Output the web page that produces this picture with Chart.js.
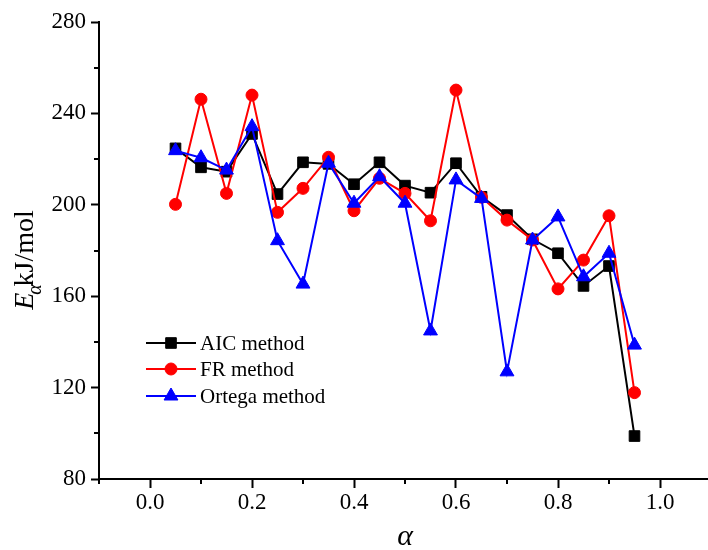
<!DOCTYPE html>
<html>
<head>
<meta charset="utf-8">
<script src="https://cdn.jsdelivr.net/npm/chart.js@4.4.1/dist/chart.umd.min.js"></script>
<style>
  html, body { margin: 0; padding: 0; background: #fff; overflow: hidden; }
  #wrap { position: absolute; left: 0; top: 0; width: 720px; height: 550px; }
</style>
</head>
<body>
<div id="wrap"><canvas id="grafico" width="720" height="550"></canvas></div>
<script>
// conversion degree values
const alfa = [0.05, 0.10, 0.15, 0.20, 0.25, 0.30, 0.35, 0.40, 0.45, 0.50,
              0.55, 0.60, 0.65, 0.70, 0.75, 0.80, 0.85, 0.90, 0.95];

// activation energy, kJ/mol
const aic    = [224.7, 216.4, 214.5, 231.0, 204.7, 218.6, 217.9, 209.0, 218.6, 208.4,
                205.3, 218.2, 203.5, 195.5, 184.9, 178.8, 164.5, 173.2, 98.8];
const fr     = [200.2, 246.2, 205.0, 248.0, 196.7, 207.2, 220.8, 197.4, 211.6, 205.0,
                193.0, 250.2, 203.3, 193.3, 184.6, 163.2, 175.8, 195.2, 117.8];
const ortega = [223.7, 220.6, 215.2, 234.2, 184.3, 165.3, 218.2, 200.7, 212.3, 200.7,
                144.8, 210.9, 202.8, 126.9, 184.6, 194.7, 168.5, 178.8, 138.6];

const seriesNames = ['AIC method', 'FR method', 'Ortega method'];

const yTicksMajor = [80, 120, 160, 200, 240, 280];
const xTicksMajor = ['0.0', '0.2', '0.4', '0.6', '0.8', '1.0'];

const FONT = '"Liberation Serif", "Times New Roman", serif';

function puntos(valores) {
  return alfa.map((a, i) => ({ x: a, y: valores[i] }));
}

// minor ticks, legend and axis titles
const extras = {
  id: 'extras',
  afterDraw(chart) {
    const ctx = chart.ctx;
    const xs = chart.scales.x, ys = chart.scales.y;
    const area = chart.chartArea;
    ctx.save();
    ctx.strokeStyle = '#000';
    ctx.lineWidth = 2;
    // minor ticks x
    for (let k = -1; k <= 11; k += 2) {
      const px = Math.round(xs.getPixelForValue(k / 10));
      ctx.beginPath();
      ctx.moveTo(px, area.bottom);
      ctx.lineTo(px, area.bottom + 5);
      ctx.stroke();
    }
    // minor ticks y
    for (let v = 100; v <= 260; v += 40) {
      const py = Math.round(ys.getPixelForValue(v));
      ctx.beginPath();
      ctx.moveTo(area.left, py);
      ctx.lineTo(area.left - 5, py);
      ctx.stroke();
    }

    // leyenda
    const filas = [343, 369, 396];
    chart.data.datasets.forEach((ds, i) => {
      const y = filas[i];
      ctx.strokeStyle = ds.borderColor;
      ctx.fillStyle = ds.pointBackgroundColor;
      ctx.lineWidth = 2;
      ctx.beginPath();
      ctx.moveTo(146, y);
      ctx.lineTo(196, y);
      ctx.stroke();
      ctx.lineWidth = 1;
      Chart.helpers.drawPoint(ctx, {
        pointStyle: ds.pointStyle, radius: ds.pointRadius, borderWidth: 1, rotation: 0
      }, 171, y);
      ctx.fillStyle = '#000';
      ctx.font = '21px ' + FONT;
      ctx.textBaseline = 'middle';
      ctx.textAlign = 'left';
      ctx.fillText(ds.label, 200, y + 1);
    });

    // titulo eje x
    ctx.fillStyle = '#000';
    ctx.textAlign = 'center';
    ctx.textBaseline = 'alphabetic';
    ctx.font = 'italic 30px ' + FONT;
    ctx.fillText('α', (area.left + area.right) / 2, 545);

    // titulo eje y con subindice
    ctx.translate(33, 260);
    ctx.rotate(-Math.PI / 2);
    ctx.textAlign = 'left';
    const fE = 'italic 28px ' + FONT;
    const fSub = 'italic 20px ' + FONT;
    const fU = '28px ' + FONT;
    ctx.font = fE; const wE = ctx.measureText('E').width;
    ctx.font = fSub; const wA = ctx.measureText('α').width;
    ctx.font = fU; const wU = ctx.measureText('kJ/mol').width;
    let u = -(wE + wA * 0.6 + wU) / 2;
    ctx.font = fE; ctx.fillText('E', u, 0);
    ctx.font = fSub; ctx.fillText('α', u + wE - 2, 8);
    ctx.font = fU; ctx.fillText('kJ/mol', u + wE + wA * 0.6, 0);
    ctx.restore();
  }
};

const estilos = [
  { color: '#000000', punto: 'rect', radio: 7.5, orden: 2 },
  { color: '#ff0000', punto: 'circle', radio: 6, orden: 1 },
  { color: '#0000ff', punto: 'triangle', radio: 8, orden: 0 }
];

const ctx = document.getElementById('grafico').getContext('2d');
new Chart(ctx, {
  type: 'line',
  data: {
    datasets: [aic, fr, ortega].map((vals, i) => ({
      label: seriesNames[i],
      data: puntos(vals),
      borderColor: estilos[i].color,
      backgroundColor: estilos[i].color,
      pointBackgroundColor: estilos[i].color,
      pointBorderColor: estilos[i].color,
      pointStyle: estilos[i].punto,
      pointRadius: estilos[i].radio,
      pointBorderWidth: 1,
      borderWidth: 2,
      tension: 0,
      order: estilos[i].orden
    }))
  },
  options: {
    responsive: false,
    animation: false,
    layout: { padding: { left: 0, right: 8, top: 22, bottom: 0 } },
    plugins: {
      legend: { display: false },
      tooltip: { enabled: false }
    },
    scales: {
      x: {
        type: 'linear',
        min: -0.1,
        max: 1.1,
        afterFit: s => { s.height = 71; },
        afterBuildTicks: s => {
          s.ticks = xTicksMajor.map(t => ({ value: parseFloat(t) }));
        },
        ticks: {
          callback: v => v.toFixed(1),
          font: { family: FONT, size: 23 },
          color: '#000',
          padding: 1,
          maxRotation: 0,
          autoSkip: false
        },
        grid: {
          display: true,
          drawOnChartArea: false,
          drawTicks: true,
          tickLength: 9,
          tickWidth: 2,
          tickColor: '#000'
        },
        border: { display: true, color: '#000', width: 2 }
      },
      y: {
        min: 80,
        max: 280,
        afterFit: s => { s.width = 99; },
        afterBuildTicks: s => {
          s.ticks = yTicksMajor.map(v => ({ value: v }));
        },
        ticks: {
          font: { family: FONT, size: 23 },
          color: '#000',
          padding: 5
        },
        grid: {
          display: true,
          drawOnChartArea: false,
          drawTicks: true,
          tickLength: 8,
          tickWidth: 2,
          tickColor: '#000'
        },
        border: { display: true, color: '#000', width: 2 }
      }
    }
  },
  plugins: [extras]
});
</script>
</body>
</html>
